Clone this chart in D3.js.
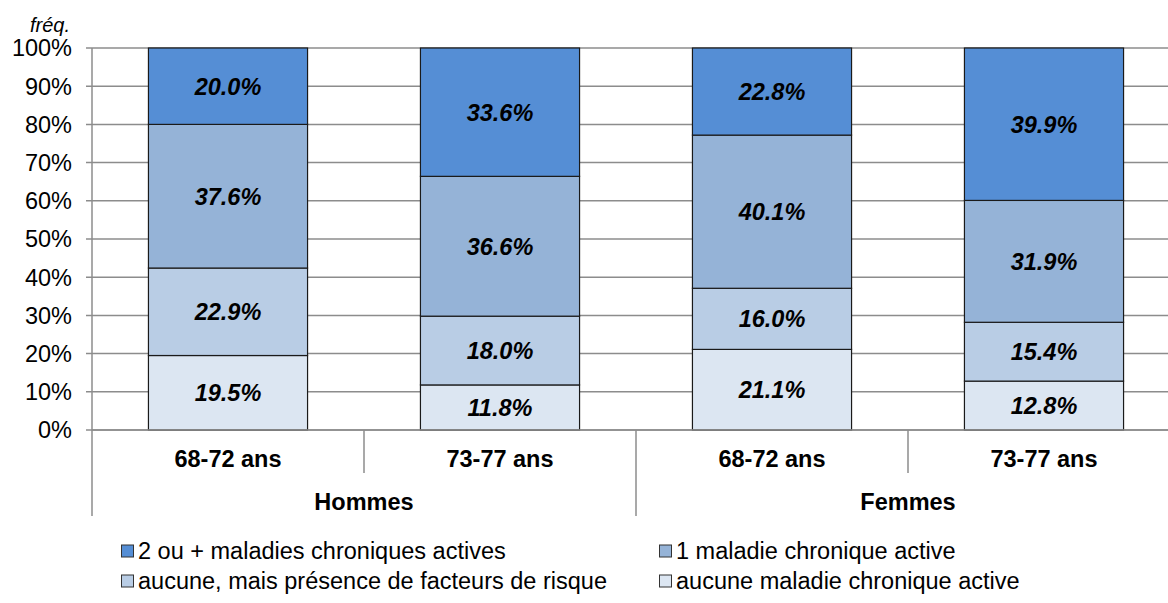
<!DOCTYPE html>
<html><head><meta charset="utf-8">
<script src="https://cdn.jsdelivr.net/npm/d3@7"></script>
<style>body{margin:0;background:#fff;}svg{display:block;font-family:"Liberation Sans",Arial,sans-serif;}</style>
</head><body>
<svg id="c" width="1168" height="603"></svg>
<script>
const groups = ["Hommes","Hommes","Femmes","Femmes"];
const ages = ["68-72 ans","73-77 ans","68-72 ans","73-77 ans"];
const seriesNames = ["aucune maladie chronique active","aucune, mais présence de facteurs de risque","1 maladie chronique active","2 ou + maladies chroniques actives"];
const aucune = [19.5, 11.8, 21.1, 12.8];
const facteurs = [22.9, 18.0, 16.0, 15.4];
const une = [37.6, 36.6, 40.1, 31.9];
const deuxPlus = [20.0, 33.6, 22.8, 39.9];
const yTicks = [0,10,20,30,40,50,60,70,80,90,100];
const colors = ["#DCE6F2","#B9CDE5","#95B3D7","#558ED5"];

const FS = 23.5;
const svg = d3.select("#c");
const L = 92, R = 1180, T = 48, B = 430;
const idx = d3.range(ages.length);
const x = d3.scaleBand().domain(idx).range([L,R]).paddingInner(0.415).paddingOuter(0.2075);
const xs = d3.scaleLinear().domain([0, ages.length]).range([L,R]);
const y = d3.scaleLinear().domain([0,100]).range([B,T]);

// gridlines
svg.append("g").selectAll("line").data(yTicks).join("line")
  .attr("x1", L-6).attr("x2", R).attr("y1", d=>y(d)).attr("y2", d=>y(d))
  .attr("stroke","#8c8c8c").attr("stroke-width",1.5);
// y labels
svg.append("g").selectAll("text").data(yTicks).join("text")
  .attr("x", 72).attr("y", d=>y(d)).attr("dy","0.36em").attr("text-anchor","end")
  .attr("font-size",FS).attr("fill","#000").text(d=>d+"%");
svg.append("text").attr("x",70).attr("y",32).attr("text-anchor","end")
  .attr("font-size",20).attr("font-style","italic").text("fréq.");

// stacked
const data = idx.map(i=>({i, v:[aucune[i],facteurs[i],une[i],deuxPlus[i]]}));
const stack = d3.stack().keys([0,1,2,3]).value((d,k)=>d.v[k]);
const st = stack(data);
st.forEach((layer,k)=>{
  const g = svg.append("g");
  g.selectAll("rect").data(layer).join("rect")
    .attr("x", d=>x(d.data.i)).attr("width", x.bandwidth())
    .attr("y", d=>y(d[1])).attr("height", d=>y(d[0])-y(d[1]))
    .attr("fill", colors[k]).attr("stroke","#1a1a1a").attr("stroke-width",1.2);
});
st.forEach((layer,k)=>{
  svg.append("g").selectAll("text").data(layer).join("text")
    .attr("x", d=>x(d.data.i)+x.bandwidth()/2).attr("y", d=>(y(d[0])+y(d[1]))/2)
    .attr("dy","0.36em").attr("text-anchor","middle")
    .attr("font-size",FS).attr("font-weight","bold").attr("font-style","italic")
    .text(d=>d.data.v[k].toFixed(1)+"%");
});

// axes lines
svg.append("line").attr("x1",L).attr("x2",L).attr("y1",T).attr("y2",516).attr("stroke","#8c8c8c").attr("stroke-width",1.5);
svg.append("line").attr("x1",L).attr("x2",R).attr("y1",B).attr("y2",B).attr("stroke","#8c8c8c").attr("stroke-width",1.5);
// category separators
[1,2,3].forEach(k=>{
  svg.append("line").attr("x1",xs(k)).attr("x2",xs(k)).attr("y1",B).attr("y2", k===2?516:473)
    .attr("stroke","#8c8c8c").attr("stroke-width",1.5);
});
svg.append("g").selectAll("text").data(idx).join("text")
  .attr("x", i=>xs(i+0.5)).attr("y",459).attr("dy","0.36em").attr("text-anchor","middle")
  .attr("font-size",FS).attr("font-weight","bold").text(i=>ages[i]);
const groupNames = ["Hommes","Femmes"];
svg.append("g").selectAll("text").data(groupNames).join("text")
  .attr("x",(d,j)=>xs(j*2+1)).attr("y",502).attr("dy","0.36em").attr("text-anchor","middle")
  .attr("font-size",FS).attr("font-weight","bold").text(d=>d);

// legend
const leg = [
  {k:3, x:121, y:551},{k:2, x:659, y:551},
  {k:1, x:121, y:581},{k:0, x:659, y:581}
];
const lg = svg.append("g").selectAll("g").data(leg).join("g").attr("transform",d=>`translate(${d.x},${d.y})`);
lg.append("rect").attr("x",0.5).attr("y",-6).attr("width",12).attr("height",12)
  .attr("fill",d=>colors[d.k]).attr("stroke","#333").attr("stroke-width",1);
lg.append("text").attr("x",17).attr("y",0).attr("dy","0.36em").attr("font-size",FS)
  .text(d=>seriesNames[d.k]);
</script>
</body></html>
